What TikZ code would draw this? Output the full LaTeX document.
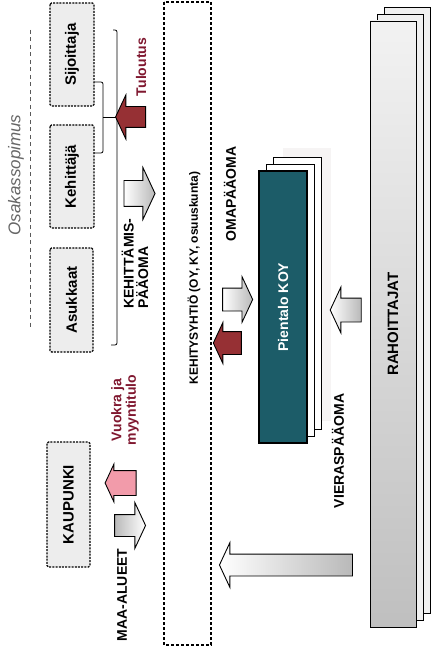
\documentclass[tikz,border=0pt]{standalone}
\usepackage{fontspec}
\setmainfont{Liberation Sans}
\usetikzlibrary{shapes.arrows}
\definecolor{KOYteal}{RGB}{28,92,104}
\definecolor{tuloRed}{RGB}{150,48,52}
\definecolor{tuloText}{RGB}{128,24,48}
\definecolor{vuokraPink}{RGB}{242,155,170}

\begin{document}
\begin{tikzpicture}[x=1pt, y=-1pt, font=\fontsize{14}{14.5}\selectfont\bfseries,
    partybox/.style={rotate=90, draw, dash pattern=on 2pt off 1.2pt, line width=1.2pt,
        rounded corners=1.5pt, fill=gray!14, inner sep=0pt,
        font=\fontsize{15}{16}\selectfont\bfseries},
    label90/.style={rotate=90, inner sep=0pt},
    stackcopy/.style={draw, line width=0.9pt},
    bracket/.style={line width=0.8pt, rounded corners=2pt},
    blockarrow/.style={single arrow, draw, line width=0.9pt, inner xsep=0pt,
        single arrow tip angle=130},
    leftarrow/.style={blockarrow, shape border rotate=180},
    grayshade/.style={left color=white, right color=gray!55},
  ]
  \useasboundingbox (0,0) rectangle (432,652);

  % osakassopimus
  \draw[gray!70!black, line width=0.8pt, dash pattern=on 4pt off 3.5pt] (30,30) -- (30,328);
  \node[label90, font=\fontsize{17}{18}\selectfont\itshape, text=gray!80!black] (osakas) at (16,175) {Osakassopimus};

  % osapuolet
  \node[partybox, minimum width=103pt, minimum height=44pt] (sijoittaja) at (72,54.5) {Sijoittaja};
  \node[partybox, minimum width=103pt, minimum height=44pt] (kehittaja) at (72,176.5) {Kehittäjä};
  \node[partybox, minimum width=104pt, minimum height=43pt] (asukkaat) at (71.5,300) {Asukkaat};
  \node[partybox, minimum width=125pt, minimum height=43pt] (kaupunki) at (68.5,504.5) {KAUPUNKI};

  % sulkeet
  \draw[bracket] (113,30) -- (117,30) -- (117,345) -- (111,345);
  \draw[bracket] (94,82) -- (103,82) -- (103,153) -- (94,153);
  \draw[bracket] (103,117) -- (117,117);

  % kehitysyhtio
  \node[rotate=90, draw, dash pattern=on 3pt off 2pt, line width=1.3pt,
        minimum width=643pt, minimum height=47pt] (kehitys) at (187.5,323.5) {};
  \node[label90, font=\fontsize{12}{13}\selectfont\bfseries] (kehitysText) at (194,278) {KEHITYSYHTIÖ (OY, KY, osuuskunta)};

  % pientalo koy
  \fill[red!8!gray!8] (283,148) rectangle (331,421);
  \foreach \d in {14,7}
    \draw[stackcopy, fill=white] (259+\d,171-\d) rectangle (307+\d,443-\d);
  \node[rotate=90, draw, line width=1.2pt, fill=KOYteal, text=white, inner sep=0pt,
        minimum width=272pt, minimum height=48pt] (koy) at (283,307) {Pientalo KOY};

  % rahoittajat
  \foreach \d in {14,7}
    \draw[stackcopy, fill=gray!12] (370+\d,21-\d) rectangle (416+\d,627-\d);
  \node[rotate=90, draw, line width=0.9pt, top color=gray!10, middle color=gray!18,
        bottom color=gray!50, inner sep=0pt, minimum width=606pt, minimum height=46pt,
        font=\fontsize{15}{16}\selectfont\bfseries] (rahoittajat) at (393,324) {RAHOITTAJAT};

  % nuolet
  \node[leftarrow, fill=tuloRed, minimum height=30pt, inner ysep=10pt,
        single arrow head extend=11.5pt] (tuloArrow) at (133,117) {};
  \node[blockarrow, grayshade, minimum height=31pt, inner ysep=12.5pt,
        single arrow head extend=13pt] (kehArrow) at (136.5,193.5) {};
  \node[leftarrow, fill=vuokraPink, minimum height=31pt, inner ysep=12pt,
        single arrow head extend=6.5pt] (vuokraArrow) at (123.5,483) {};
  \node[blockarrow, left color=gray!55, right color=white, minimum height=31pt,
        inner ysep=10.5pt, single arrow head extend=12pt] (maaArrow) at (127.5,525.5) {};
  \node[blockarrow, grayshade, minimum height=30pt, inner ysep=11pt,
        single arrow head extend=11.5pt] (omaArrow) at (235,299.5) {};
  \node[leftarrow, fill=tuloRed, minimum height=28pt, inner ysep=11pt,
        single arrow head extend=9pt] (koyArrow) at (230,343) {};
  \node[leftarrow, grayshade, minimum height=31pt, inner ysep=11.5pt,
        single arrow head extend=11pt] (vierasArrow) at (348.5,310) {};
  \node[leftarrow, grayshade, minimum height=133pt, inner ysep=10.5pt,
        single arrow head extend=11.5pt] (maaRahaArrow) at (288.5,565) {};

  % tekstit
  \node[label90, text=tuloText] (tulo) at (141,67) {Tuloutus};
  \node[label90, align=left] (kehPaaoma) at (135,263.5) {KEHITTÄMIS-\\PÄÄOMA};
  \node[label90, align=center, text=tuloText] (vuokra) at (125,410) {Vuokra ja\\myyntitulo};
  \node[label90] (maaAlueet) at (122,595) {MAA-ALUEET};
  \node[label90] (omaPaaoma) at (230,194) {OMAPÄÄOMA};
  \node[label90] (vierasPaaoma) at (338,451) {VIERASPÄÄOMA};
\end{tikzpicture}
\end{document}
